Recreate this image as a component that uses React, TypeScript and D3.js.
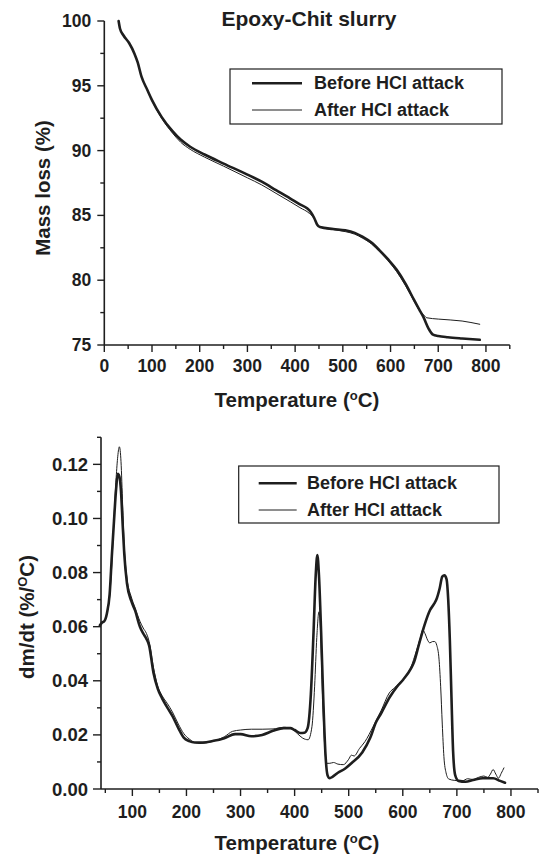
import React from "react";
import * as d3 from "d3";

// ---------- DATA ----------
// TGA (mass loss %) vs temperature (°C)
const tgaBeforeT = [30, 33, 40, 52, 63, 70, 78, 90, 100, 120, 143, 160, 180, 210, 250, 300, 330, 360, 390, 410, 425, 433, 440, 446, 452, 480, 505, 525, 541, 560, 577, 595, 613, 631, 649, 660, 669, 680, 689, 700, 720, 750, 787];
const tgaBeforeV = [100, 99.4, 98.9, 98.3, 97.5, 96.8, 95.7, 94.7, 93.9, 92.6, 91.5, 90.85, 90.3, 89.7, 89.0, 88.15, 87.6, 86.95, 86.3, 85.85, 85.55, 85.25, 84.8, 84.3, 84.1, 83.95, 83.85, 83.65, 83.36, 82.9, 82.3, 81.6, 80.8, 79.75, 78.5, 77.75, 77.15, 76.25, 75.8, 75.7, 75.6, 75.5, 75.4];
const tgaAfterT = [30, 33, 40, 52, 63, 70, 78, 90, 100, 120, 143, 160, 180, 210, 250, 300, 330, 360, 390, 410, 430, 440, 446, 452, 480, 505, 525, 541, 560, 577, 595, 613, 631, 649, 660, 669, 676, 700, 750, 787];
const tgaAfterV = [100, 99.4, 98.9, 98.3, 97.5, 96.8, 95.7, 94.7, 93.85, 92.5, 91.35, 90.65, 90.1, 89.5, 88.8, 87.9, 87.35, 86.7, 86.05, 85.6, 85.15, 84.75, 84.3, 84.1, 83.9, 83.75, 83.55, 83.25, 82.8, 82.2, 81.5, 80.65, 79.6, 78.4, 77.7, 77.35, 77.1, 77.0, 76.85, 76.6];

// DTG (dm/dt, %/°C) vs temperature (°C)
const dtgBeforeT = [40, 44, 48, 53, 58, 62, 66, 70, 73, 76, 79, 82, 85, 90, 98, 105, 114, 120, 126, 131, 139, 147, 155, 165, 174, 185, 195, 205, 215, 230, 250, 270, 290, 300, 320, 340, 360, 380, 392, 400, 410, 418, 424, 430, 435, 439, 442, 445, 449, 453, 457, 461, 465, 470, 480, 493, 505, 525, 540, 550, 560, 576, 590, 601, 615, 621, 630, 640, 650, 658, 663, 668, 673, 677, 681, 684, 687, 690, 693, 697, 703, 716, 730, 748, 767, 780, 789];
const dtgBeforeV = [0.0605, 0.0615, 0.062, 0.065, 0.072, 0.086, 0.099, 0.111, 0.1165, 0.1155, 0.11, 0.098, 0.087, 0.076, 0.0695, 0.066, 0.06, 0.0575, 0.0555, 0.053, 0.043, 0.037, 0.0335, 0.03, 0.027, 0.0225, 0.019, 0.0177, 0.0172, 0.0172, 0.0178, 0.0188, 0.0203, 0.0203, 0.0195, 0.02, 0.0215, 0.0225, 0.0225, 0.0218, 0.0207, 0.0208, 0.0225, 0.035, 0.058, 0.079, 0.0865, 0.079, 0.058, 0.033, 0.013, 0.005, 0.004, 0.0045, 0.006, 0.0075, 0.0095, 0.0135, 0.019, 0.0245, 0.028, 0.034, 0.038, 0.0405, 0.0445, 0.047, 0.0535, 0.0605, 0.066, 0.0685, 0.0705, 0.074, 0.0785, 0.079, 0.0775, 0.07, 0.055, 0.034, 0.014, 0.005, 0.003, 0.0027, 0.0033, 0.004, 0.004, 0.003, 0.0023];
const dtgAfterT = [40, 44, 48, 53, 58, 62, 66, 70, 73, 76, 79, 82, 85, 90, 98, 105, 114, 120, 126, 131, 139, 147, 155, 165, 174, 185, 195, 205, 215, 225, 240, 255, 270, 285, 300, 320, 340, 360, 380, 395, 405, 415, 425, 432, 437, 441, 445, 448, 451, 455, 459, 465, 472, 480, 490, 500, 505, 510, 520, 530, 545, 560, 575, 585, 600, 615, 625, 632, 637, 641, 646, 650, 655, 659, 663, 667, 670, 673, 676, 680, 685, 695, 710, 720, 730, 740, 750, 757, 762, 767, 772, 777, 782, 787];
const dtgAfterV = [0.0605, 0.0615, 0.062, 0.065, 0.071, 0.083, 0.1, 0.115, 0.123, 0.1265, 0.121, 0.105, 0.09, 0.078, 0.071, 0.067, 0.062, 0.0595, 0.0575, 0.0545, 0.045, 0.038, 0.0345, 0.0315, 0.0285, 0.024, 0.0205, 0.0185, 0.0172, 0.0168, 0.0172, 0.018, 0.0193, 0.0213, 0.0218, 0.0221, 0.0221, 0.0222, 0.0228, 0.0222, 0.0205, 0.0188, 0.0182, 0.023, 0.038, 0.056, 0.0655, 0.058, 0.038, 0.018, 0.0095, 0.0095, 0.0098, 0.0092, 0.009, 0.011, 0.0125, 0.0122, 0.015, 0.0175, 0.023, 0.029, 0.0355, 0.0375, 0.0405, 0.045, 0.051, 0.0555, 0.0588, 0.0575, 0.055, 0.054, 0.0545, 0.0545, 0.053, 0.048, 0.038, 0.024, 0.012, 0.006, 0.0037, 0.0032, 0.003, 0.0038, 0.0035, 0.0043, 0.0048, 0.0043, 0.0055, 0.0072, 0.0055, 0.004, 0.0058, 0.0078];

const seriesNames = ["Before HCl attack", "After HCl attack"];
const topTitle = "Epoxy-Chit slurry";
const xTitle = "Temperature (";
const tgaYTicks = [75, 80, 85, 90, 95, 100];
const tgaXTicks = [0, 100, 200, 300, 400, 500, 600, 700, 800];
const dtgYTicks = [0, 0.02, 0.04, 0.06, 0.08, 0.1, 0.12];
const dtgXTicks = [100, 200, 300, 400, 500, 600, 700, 800];

// ---------- STYLE ----------
const FONT = "'Liberation Sans', Arial, Helvetica, sans-serif";
const INK = "#1e1e1e";

const zip = (t: number[], v: number[]) => t.map((x, i) => [x, v[i]] as [number, number]);

function Curve({ data, x, y, width }: any) {
  const line = d3
    .line<[number, number]>()
    .x((d) => x(d[0]))
    .y((d) => y(d[1]))
    .curve(d3.curveMonotoneX);
  return <path d={line(data) || ""} fill="none" stroke={INK} strokeWidth={width} strokeLinejoin="round" strokeLinecap="round" />;
}

function Legend({ x0, y0, w, h, lx0, lx1, ly0, ly1, tx }: any) {
  return (
    <g>
      <rect x={x0} y={y0} width={w} height={h} fill="white" stroke={INK} strokeWidth={1.2} />
      <line x1={lx0} x2={lx1} y1={ly0} y2={ly0} stroke={INK} strokeWidth={2.6} />
      <line x1={lx0} x2={lx1} y1={ly1} y2={ly1} stroke={INK} strokeWidth={1} />
      <text x={tx} y={ly0 + 6} fontSize={18} fontWeight="bold" fill={INK} fontFamily={FONT}>{seriesNames[0]}</text>
      <text x={tx} y={ly1 + 6} fontSize={18} fontWeight="bold" fill={INK} fontFamily={FONT}>{seriesNames[1]}</text>
    </g>
  );
}

export default function App() {
  // ----- top chart scales -----
  const x1 = d3.scaleLinear().domain([0, 850]).range([104.3, 509.8]);
  const y1 = d3.scaleLinear().domain([75, 100]).range([345, 21]);
  // ----- bottom chart scales -----
  const x2 = d3.scaleLinear().domain([42, 850]).range([101, 538]);
  const y2 = d3.scaleLinear().domain([0, 0.13]).range([789, 437.3]);

  const tgaMinorY = d3.range(75, 100.01, 2.5);
  const tgaMinorX = d3.range(0, 850.01, 50);
  const dtgMinorY = d3.range(0, 0.1301, 0.01);
  const dtgMinorX = d3.range(50, 850.01, 50);

  const textProps = { fontFamily: FONT, fontWeight: "bold", fill: INK } as any;

  return (
    <svg width={540} height={854} style={{ position: "absolute", left: 0, top: 0, background: "white" }}>
      <rect width={540} height={854} fill="white" />
      {/* ================= TOP CHART ================= */}
      <text x={309} y={26} fontSize={21} textAnchor="middle" {...textProps}>{topTitle}</text>
      {/* axes */}
      <line x1={x1(0)} x2={x1(0)} y1={y1(100)} y2={y1(75)} stroke={INK} strokeWidth={1.6} />
      <line x1={x1(0)} x2={x1(850)} y1={y1(75)} y2={y1(75)} stroke={INK} strokeWidth={1.6} />
      {tgaMinorY.map((v) => {
        const major = Math.abs(v % 5) < 1e-6;
        return <line key={"ty" + v} x1={x1(0) - (major ? 7 : 4)} x2={x1(0)} y1={y1(v)} y2={y1(v)} stroke={INK} strokeWidth={1.4} />;
      })}
      {tgaMinorX.map((v) => {
        const major = Math.abs(v % 100) < 1e-6;
        return <line key={"tx" + v} x1={x1(v)} x2={x1(v)} y1={y1(75)} y2={y1(75) + (major ? 7 : 4)} stroke={INK} strokeWidth={1.4} />;
      })}
      {tgaYTicks.map((v) => (
        <text key={"tyl" + v} x={x1(0) - 13} y={y1(v) + 6} fontSize={17.5} textAnchor="end" {...textProps}>{v}</text>
      ))}
      {tgaXTicks.map((v) => (
        <text key={"txl" + v} x={x1(v)} y={372} fontSize={17.5} textAnchor="middle" {...textProps}>{v}</text>
      ))}
      <text x={297} y={407} fontSize={20.5} textAnchor="middle" {...textProps}>
        {xTitle}<tspan fontSize={13} dy={-7}>o</tspan><tspan dy={7}>C)</tspan>
      </text>
      <text transform="translate(50,188) rotate(-90)" fontSize={20.5} textAnchor="middle" {...textProps}>Mass loss (%)</text>
      <Curve data={zip(tgaAfterT, tgaAfterV)} x={x1} y={y1} width={1} />
      <Curve data={zip(tgaBeforeT, tgaBeforeV)} x={x1} y={y1} width={2.6} />
      <Legend x0={230} y0={69} w={272} h={55} lx0={252} lx1={302} ly0={83.3} ly1={110} tx={314} />

      {/* ================= BOTTOM CHART ================= */}
      <line x1={x2(42)} x2={x2(42)} y1={y2(0.13)} y2={y2(0)} stroke={INK} strokeWidth={1.6} />
      <line x1={x2(42)} x2={x2(850)} y1={y2(0)} y2={y2(0)} stroke={INK} strokeWidth={1.6} />
      {dtgMinorY.map((v, i) => {
        const major = i % 2 === 0;
        return <line key={"dy" + i} x1={x2(42) - (major ? 8 : 4)} x2={x2(42)} y1={y2(v)} y2={y2(v)} stroke={INK} strokeWidth={1.4} />;
      })}
      {dtgMinorX.map((v) => {
        const major = Math.abs(v % 100) < 1e-6;
        return <line key={"dx" + v} x1={x2(v)} x2={x2(v)} y1={y2(0)} y2={y2(0) + (major ? 7 : 4)} stroke={INK} strokeWidth={1.4} />;
      })}
      {dtgYTicks.map((v) => (
        <text key={"dyl" + v} x={88} y={y2(v) + 6.5} fontSize={18.5} textAnchor="end" {...textProps}>{v.toFixed(2)}</text>
      ))}
      {dtgXTicks.map((v) => (
        <text key={"dxl" + v} x={x2(v)} y={818} fontSize={17.5} textAnchor="middle" {...textProps}>{v}</text>
      ))}
      <text x={297} y={850} fontSize={20.5} textAnchor="middle" {...textProps}>
        {xTitle}<tspan fontSize={13} dy={-7}>o</tspan><tspan dy={7}>C)</tspan>
      </text>
      <text transform="translate(34,617) rotate(-90)" fontSize={20.5} textAnchor="middle" {...textProps}>
        dm/dt (%/<tspan fontSize={13} dy={-7}>O</tspan><tspan dy={7}>C)</tspan>
      </text>
      <Curve data={zip(dtgAfterT, dtgAfterV)} x={x2} y={y2} width={1} />
      <Curve data={zip(dtgBeforeT, dtgBeforeV)} x={x2} y={y2} width={2.6} />
      <Legend x0={238.7} y0={466} w={260.3} h={57} lx0={258.7} lx1={296.7} ly0={483.3} ly1={510} tx={307} />
    </svg>
  );
}
